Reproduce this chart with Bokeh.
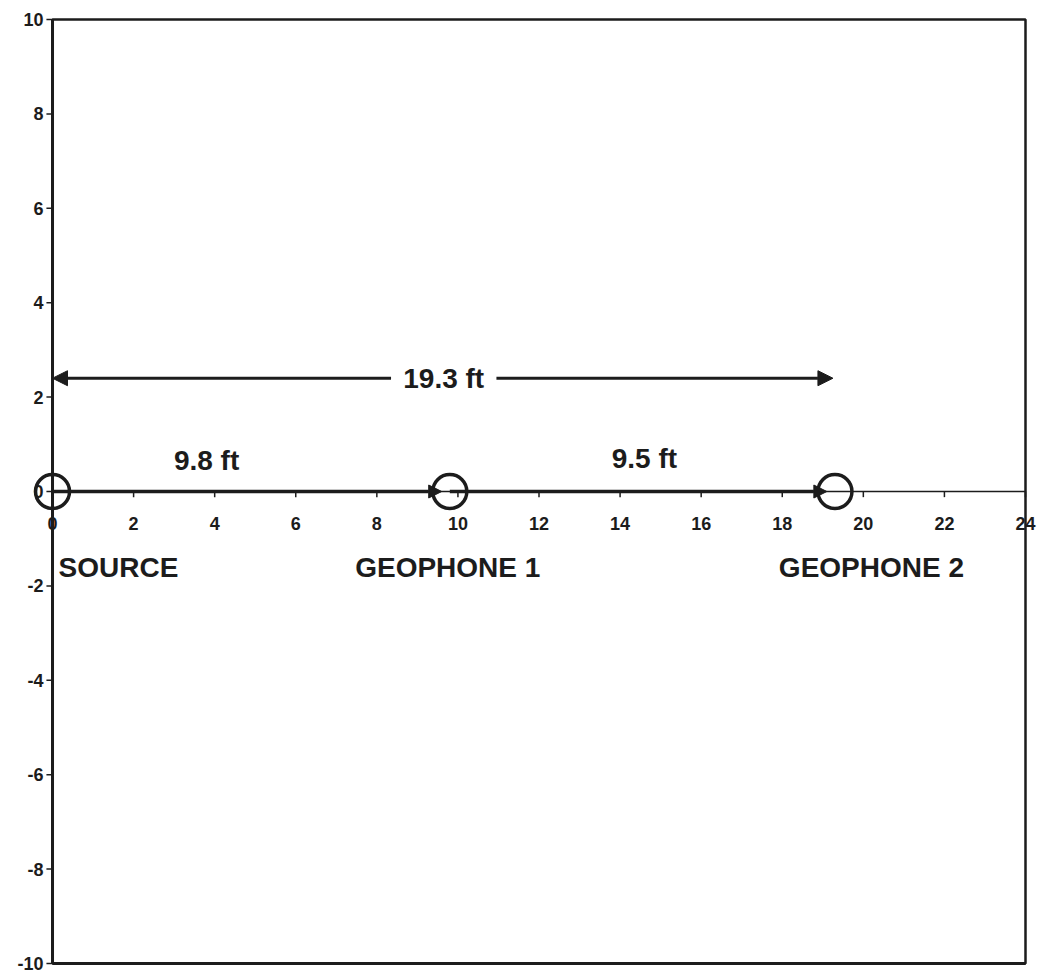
from bokeh.plotting import figure
from bokeh.models import Range1d, ColumnDataSource, Arrow, NormalHead
from bokeh.core.properties import value
from bokeh.embed import file_html
from bokeh.resources import INLINE

# ---- data ----
point_names = ["SOURCE", "GEOPHONE 1", "GEOPHONE 2"]
point_x = [0.0, 9.8, 19.3]
point_y = [0.0, 0.0, 0.0]
distances = [9.8, 9.5]
total_distance = 19.3
x_ticks = [0, 2, 4, 6, 8, 10, 12, 14, 16, 18, 20, 22, 24]
y_ticks = [-10, -8, -6, -4, -2, 0, 2, 4, 6, 8, 10]

# annotation anchors (data units)
name_label_x = [0.15, 9.75, 20.2]
name_label_y = [-1.6, -1.6, -1.6]
dist_label_x = [3.8, 14.6]
dist_label_y = [0.65, 0.7]
total_arrow_y = 2.4

INK = "#1c1c1c"
FONT = value("Liberation Sans")

X0, X1 = x_ticks[0], x_ticks[-1]
Y0, Y1 = y_ticks[0], y_ticks[-1]

p = figure(width=1037, height=974, output_backend="svg", toolbar_location=None,
           x_range=Range1d(-1.283, 24.296), y_range=Range1d(-10.233, 10.4025),
           x_axis_location=None, y_axis_location=None,
           min_border_left=0, min_border_right=0, min_border_top=0, min_border_bottom=0)
p.background_fill_color = "white"
p.border_fill_color = "white"
p.outline_line_color = None
p.xgrid.visible = False
p.ygrid.visible = False

# plot area frame
p.quad(left=[X0], right=[X1], bottom=[Y0], top=[Y1], fill_color=None,
       line_color=INK, line_width=2.5)
# y axis (left edge) thicker
p.segment(x0=[X0], y0=[Y0], x1=[X0], y1=[Y1], line_color=INK, line_width=3)
p.segment(x0=[X0], y0=[Y0], x1=[X1], y1=[Y0], line_color=INK, line_width=3)
# y ticks and labels
p.segment(x0=[X0] * len(y_ticks), y0=y_ticks, x1=[X0 - 0.15] * len(y_ticks), y1=y_ticks,
          line_color=INK, line_width=1.5)
p.text(x=[X0] * len(y_ticks), y=y_ticks, text=[str(t) for t in y_ticks], x_offset=-9,
       text_font=FONT, text_font_style="bold", text_font_size="18px",
       text_align="right", text_baseline="middle", text_color=INK)

# x axis drawn at y = 0
p.segment(x0=[X0], y0=[0], x1=[X1], y1=[0], line_color=INK, line_width=1.5)
p.segment(x0=x_ticks, y0=[0] * len(x_ticks), x1=x_ticks, y1=[-0.12] * len(x_ticks),
          line_color=INK, line_width=1.5)
p.text(x=x_ticks, y=[0] * len(x_ticks), text=[str(t) for t in x_ticks], y_offset=32,
       text_font=FONT, text_font_style="bold", text_font_size="18px",
       text_align="center", text_baseline="middle", text_color=INK)

# arrows along the line between points
gap = 0.2
main_src = ColumnDataSource(dict(
    x0=point_x[:-1], y0=point_y[:-1],
    x1=[x - gap for x in point_x[1:]], y1=point_y[1:]))
p.add_layout(Arrow(x_start="x0", y_start="y0", x_end="x1", y_end="y1", source=main_src,
                   line_color=INK, line_width=3.5,
                   end=NormalHead(size=13, fill_color=INK, line_color=INK)))

# total distance double arrow with text gap
mid = (point_x[0] + total_distance) / 2
half_gap = 1.3
tot_src = ColumnDataSource(dict(
    x0=[mid - half_gap, mid + half_gap], y0=[total_arrow_y, total_arrow_y],
    x1=[point_x[0], total_distance - 0.05], y1=[total_arrow_y, total_arrow_y]))
p.add_layout(Arrow(x_start="x0", y_start="y0", x_end="x1", y_end="y1", source=tot_src,
                   line_color=INK, line_width=3,
                   end=NormalHead(size=15, fill_color=INK, line_color=INK)))
p.text(x=[mid], y=[total_arrow_y], text=[f"{total_distance} ft"],
       text_font=FONT, text_font_style="bold", text_font_size="28px",
       text_align="center", text_baseline="middle", text_color=INK)

# point circles
p.scatter(x=point_x, y=point_y, marker="circle", size=34, fill_color=None,
          line_color=INK, line_width=3.5)

# distance labels
p.text(x=dist_label_x, y=dist_label_y, text=[f"{d} ft" for d in distances],
       text_font=FONT, text_font_style="bold", text_font_size="28px",
       text_align="center", text_baseline="middle", text_color=INK)

# point names
p.text(x=name_label_x, y=name_label_y, text=point_names,
       text_font=FONT, text_font_style="bold", text_font_size="28px",
       text_align=["left", "center", "center"], text_baseline="middle", text_color=INK)

open("out.html", "w").write(file_html(p, INLINE))
